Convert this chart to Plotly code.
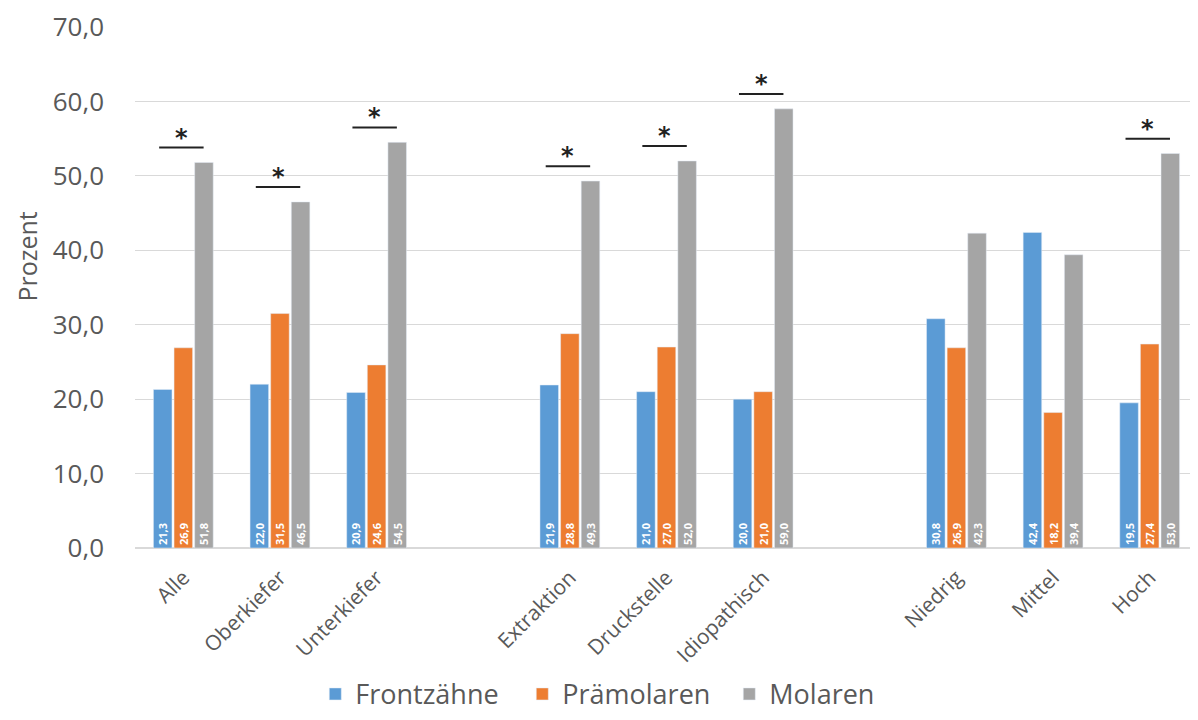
import plotly.graph_objects as go

categories = ["Alle", "Oberkiefer", "Unterkiefer", " ", "Extraktion", "Druckstelle",
              "Idiopathisch", "  ", "Niedrig", "Mittel", "Hoch"]
frontzaehne = [21.3, 22.0, 20.9, None, 21.9, 21.0, 20.0, None, 30.8, 42.4, 19.5]
praemolaren = [26.9, 31.5, 24.6, None, 28.8, 27.0, 21.0, None, 26.9, 18.2, 27.4]
molaren = [51.8, 46.5, 54.5, None, 49.3, 52.0, 59.0, None, 42.3, 39.4, 53.0]
significant = [True, True, True, False, True, True, True, False, False, False, True]

series = [("Frontzähne", frontzaehne, "#5B9BD5"),
          ("Prämolaren", praemolaren, "#ED7D31"),
          ("Molaren", molaren, "#A5A5A5")]

FONT = "Open Sans"
TXT = "#595959"

def fmt(v):
    return "" if v is None else f"{v:.1f}".replace(".", ",")

fig = go.Figure()
for name, vals, col in series:
    fig.add_trace(go.Bar(
        x=categories, y=vals, name=name, marker_color=col,
        text=[fmt(v) for v in vals], textposition="inside",
        insidetextanchor="start", textangle=-90,
        textfont=dict(color="white", size=11, family=FONT, weight="bold"),
    ))

for i, (sig, m) in enumerate(zip(significant, molaren)):
    if sig:
        ly = m + 2.0
        fig.add_shape(type="line", xref="x", yref="y",
                      x0=i - 0.25, x1=i + 0.21, y0=ly, y1=ly,
                      line=dict(color="#222222", width=2))
        fig.add_annotation(x=i - 0.02, y=ly, xref="x", yref="y", text="*",
                           showarrow=False, yanchor="bottom", yshift=-6,
                           font=dict(size=24, color="#222222", family="DejaVu Sans", weight="bold"))

fig.add_annotation(text="Prozent", xref="paper", yref="paper",
                   x=-0.102, y=0.5585, textangle=-90, showarrow=False,
                   xanchor="center", yanchor="middle",
                   font=dict(size=25, color=TXT, family=FONT))

fig.update_layout(
    width=1190, height=712,
    margin=dict(l=127, r=0, t=19, b=172, autoexpand=False),
    paper_bgcolor="white", plot_bgcolor="white",
    separators=",.",
    barmode="group", bargap=0.36, bargroupgap=0.1,
    font=dict(family=FONT, color=TXT),
    showlegend=True,
    legend=dict(orientation="h", x=0.1696, xanchor="left", xref="paper",
                y=-0.328, yref="paper", yanchor="bottom",
                font=dict(size=27, color=TXT), itemwidth=30,
                entrywidth=162, entrywidthmode="pixels"),
    uniformtext=dict(minsize=11, mode="show"),
)
fig.update_yaxes(range=[0, 70], dtick=10, tickformat=".1f", automargin=False,
                 showgrid=True, gridcolor="#D9D9D9", gridwidth=1,
                 zeroline=True, zerolinecolor="#D9D9D9",
                 tickfont=dict(size=26, color=TXT),
                 ticklabelstandoff=30, ticklabeloverflow="allow")
fig.update_xaxes(tickangle=-45, tickfont=dict(size=21, color=TXT), automargin=False,
                 showline=True, linecolor="#D9D9D9", ticks="", ticklabelstandoff=8)

fig.write_html("out.html")
